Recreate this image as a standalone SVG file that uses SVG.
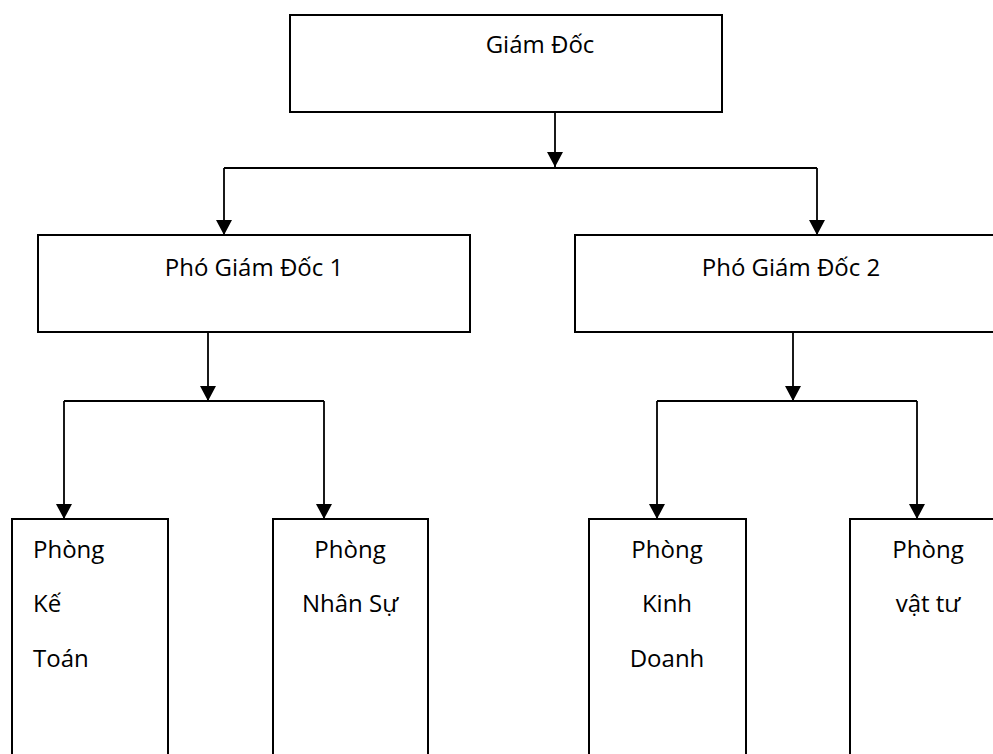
<svg xmlns="http://www.w3.org/2000/svg" width="993" height="754" viewBox="0 0 993 754">
  <style>
    .box { fill: #ffffff; stroke: #000000; stroke-width: 2; }
    .lbl { font-family: "Open Sans", "Liberation Sans", sans-serif; font-size: 24px; fill: #000000; }
    .mid { text-anchor: middle; }
    .con { fill: none; stroke: #000000; stroke-width: 1.8; }
  </style>
  <defs>
    <marker id="arr" markerUnits="userSpaceOnUse" markerWidth="16" markerHeight="16" viewBox="0 0 16 16" refX="15" refY="8" orient="auto">
      <path d="M0,0 L15,8 L0,16 Z" fill="#000000"/>
    </marker>
  </defs>
  <rect width="993" height="754" fill="#ffffff"/>

  <g id="connectors">
    <line class="con" x1="555" y1="112" x2="555" y2="167" marker-end="url(#arr)"/>
    <polyline class="con" points="224,168 817,168"/>
    <line class="con" x1="224" y1="168" x2="224" y2="235" marker-end="url(#arr)"/>
    <line class="con" x1="817" y1="168" x2="817" y2="235" marker-end="url(#arr)"/>

    <line class="con" x1="208" y1="332" x2="208" y2="401" marker-end="url(#arr)"/>
    <polyline class="con" points="64,401 324,401"/>
    <line class="con" x1="64" y1="401" x2="64" y2="519" marker-end="url(#arr)"/>
    <line class="con" x1="324" y1="401" x2="324" y2="519" marker-end="url(#arr)"/>

    <line class="con" x1="793" y1="332" x2="793" y2="401" marker-end="url(#arr)"/>
    <polyline class="con" points="657,401 917,401"/>
    <line class="con" x1="657" y1="401" x2="657" y2="519" marker-end="url(#arr)"/>
    <line class="con" x1="917" y1="401" x2="917" y2="519" marker-end="url(#arr)"/>
  </g>

  <g id="giam-doc">
    <rect class="box" x="290" y="15" width="432" height="97"/>
    <text class="lbl mid" x="540" y="53">Giám Đốc</text>
  </g>

  <g id="pho-giam-doc-1">
    <rect class="box" x="38" y="235" width="432" height="97"/>
    <text class="lbl mid" x="254" y="276">Phó Giám Đốc 1</text>
  </g>

  <g id="pho-giam-doc-2">
    <rect class="box" x="575" y="235" width="440" height="97"/>
    <text class="lbl mid" x="791" y="276">Phó Giám Đốc 2</text>
  </g>

  <g id="phong-ke-toan">
    <rect class="box" x="12" y="519" width="156" height="250"/>
    <text class="lbl" x="33" y="558">Phòng</text>
    <text class="lbl" x="33" y="612">Kế</text>
    <text class="lbl" x="33" y="667">Toán</text>
  </g>

  <g id="phong-nhan-su">
    <rect class="box" x="273" y="519" width="155" height="250"/>
    <text class="lbl mid" x="350" y="558">Phòng</text>
    <text class="lbl mid" x="350" y="612">Nhân Sự</text>
  </g>

  <g id="phong-kinh-doanh">
    <rect class="box" x="589" y="519" width="157" height="250"/>
    <text class="lbl mid" x="667" y="558">Phòng</text>
    <text class="lbl mid" x="667" y="612">Kinh</text>
    <text class="lbl mid" x="667" y="667">Doanh</text>
  </g>

  <g id="phong-vat-tu">
    <rect class="box" x="850" y="519" width="156" height="250"/>
    <text class="lbl mid" x="928" y="558">Phòng</text>
    <text class="lbl mid" x="928" y="612">vật tư</text>
  </g>
</svg>
